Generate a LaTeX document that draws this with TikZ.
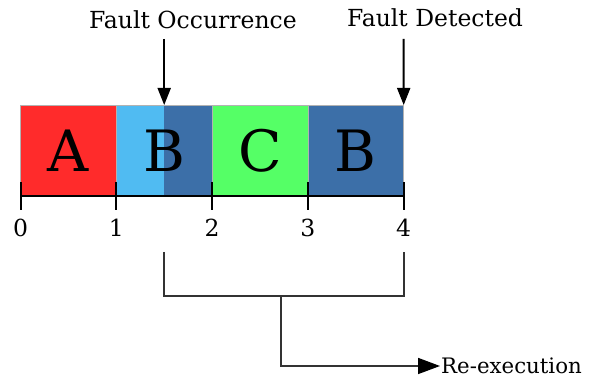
\documentclass[tikz,border=0pt]{standalone}
\usepackage{fontspec}
\setmainfont{DejaVu Serif}
\usetikzlibrary{arrows.meta, positioning}
\definecolor{SegRed}{HTML}{FF2B2B}
\definecolor{SegSky}{HTML}{50BBF2}
\definecolor{SegNavy}{HTML}{3C6FA8}
\definecolor{SegGreen}{HTML}{55FF66}
\definecolor{BraceGray}{HTML}{333333}

\begin{document}
\begin{tikzpicture}[x=1pt, y=-1pt,
    seg/.style={draw=gray!60, line width=0.8pt, anchor=north west, inner sep=0pt, outer sep=0pt,
        minimum width=95.8pt, minimum height=91pt, font=\fontsize{57}{60}\selectfont},
    lbl/.style={font=\fontsize{23.5}{27}\selectfont, inner sep=1pt},
    fault/.style={-{Triangle[length=17pt, width=13pt]}, line width=2pt},
    brace/.style={BraceGray, line width=1.6pt}]
    \useasboundingbox (0,0) rectangle (590,379);

    % Blocks on the time line
    \node[seg, fill=SegRed] (segA) at (20.5,105) {A};
    \node[seg, fill=SegSky,
        path picture={\fill[SegNavy] (path picture bounding box.north)
            rectangle (path picture bounding box.south east);}] (segB) at (116.3,105) {B};
    \node[seg, fill=SegGreen] (segC) at (212.1,105) {C};
    \node[seg, fill=SegNavy] (segR) at (307.9,105) {B};

    % Time axis
    \draw[line width=2pt] (20.5,196) -- (403.7,196);
    \foreach \t in {0,...,4} {
        \draw[line width=2pt] (20.5+95.8*\t,182) -- (20.5+95.8*\t,210);
        \node[lbl, anchor=base] (tick\t) at (20.5+95.8*\t,237) {\t};
    }

    % Fault marks
    \node[lbl, anchor=base] (occ) at (193,29) {Fault Occurrence};
    \node[lbl, anchor=base] (det) at (435,27) {Fault Detected};
    \coordinate (occFrom) at (164.2,39);
    \coordinate (detFrom) at (403.7,39);
    \draw[fault] (occFrom) -- (segB.north);
    \draw[fault] (detFrom) -- (segR.north east);

    % Re-execution bracket
    \coordinate (brL) at (164.2,252);
    \coordinate (brR) at (403.7,252);
    \coordinate (brM) at (281,296);
    \draw[brace] (brL) |- (brR |- brM) -- (brR);
    \node[lbl, font=\fontsize{21.3}{25}\selectfont, anchor=west] (reexec) at (440,366) {Re-execution};
    \draw[brace, -{Triangle[length=22pt, width=16pt, black]}] (brM) |- (reexec.west);
\end{tikzpicture}
\end{document}
